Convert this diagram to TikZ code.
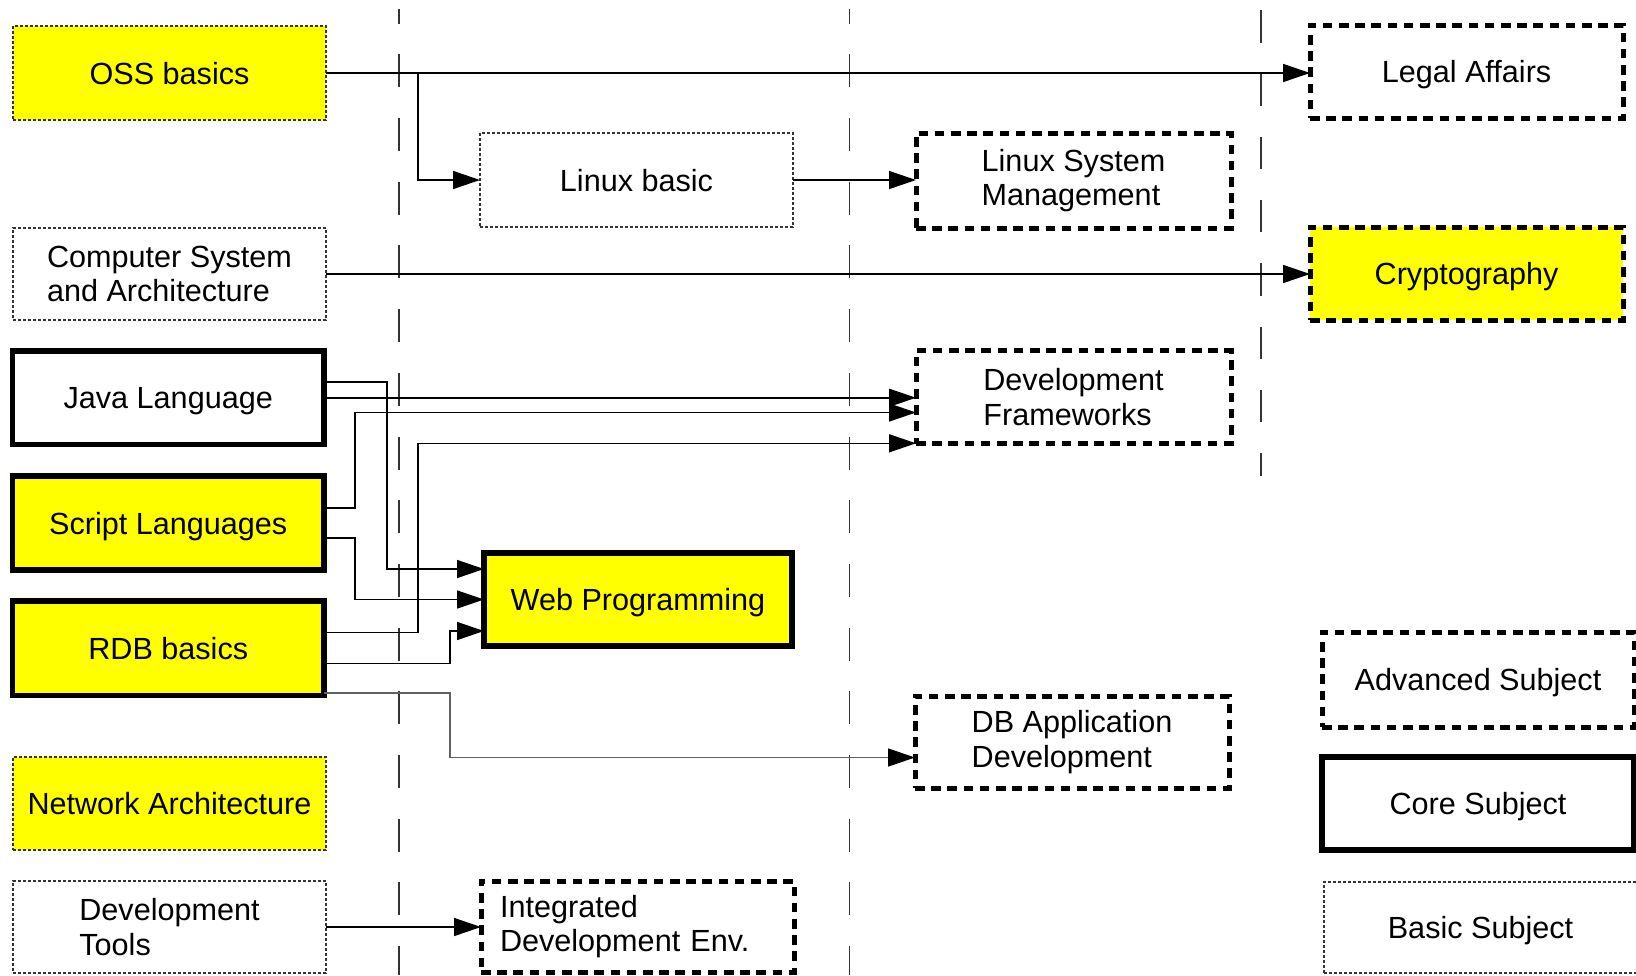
\documentclass[tikz,border=0pt]{standalone}
\usepackage{fontspec}
\setmainfont{Liberation Sans}
\usetikzlibrary{arrows.meta}
\definecolor{hl}{HTML}{FFFF00}
\begin{document}
\begin{tikzpicture}[x=0.5pt,y=-0.5pt,
  box/.style={rectangle, inner sep=0pt, outer sep=0pt, font=\fontsize{15.3}{17.3}\selectfont, align=center},
  oneline/.style={text height=11.2pt, text depth=0pt},
  basicbox/.style={box, draw=black!80, line width=0.6pt, dash pattern=on 1.5pt off 1pt},
  corebox/.style={box, draw=black, line width=2.6pt},
  advbox/.style={box, draw=black, line width=2.5pt, dash pattern=on 4.8pt off 3.3pt},
  conn/.style={draw=black, line width=0.75pt, -{Triangle[length=13.5pt,width=9pt]}},
  grayconn/.style={draw=black!62, line width=0.75pt, -{Triangle[length=13.5pt,width=9pt,color=black,fill=black]}},
  sepline/.style={draw=black!80, line width=0.75pt}
]
\useasboundingbox (0,0) rectangle (1636,975);

% separators
\draw[sepline, dash pattern=on 16.5pt off 15.35pt, dash phase=9.35pt] (399,9.3) -- (399,975);
\draw[sepline, dash pattern=on 16.5pt off 15.35pt, dash phase=9.35pt] (849.3,9.3) -- (849.3,975);
\draw[sepline, dash pattern=on 16.25pt off 15.4pt] (1261,10) -- (1261,476);

% left column
\node[basicbox, oneline, fill=hl, minimum width=156.5pt, minimum height=47pt] (oss) at (169.5,73) {OSS basics};
\node[basicbox, align=left, minimum width=156.5pt, minimum height=46pt] (csa) at (169.5,274) {Computer System\\and Architecture};
\node[corebox, oneline, minimum width=155.75pt, minimum height=46.75pt] (java) at (168.25,397.75) {Java Language};
\node[corebox, oneline, fill=hl, minimum width=155.75pt, minimum height=47pt] (script) at (168.25,523) {Script Languages};
\node[corebox, oneline, fill=hl, minimum width=155.75pt, minimum height=47.25pt] (rdb) at (168.25,648.25) {RDB basics};
\node[basicbox, oneline, fill=hl, minimum width=156.5pt, minimum height=46.5pt] (net) at (169.5,803.5) {Network Architecture};
\node[basicbox, align=left, minimum width=156.5pt, minimum height=46pt] (devtools) at (169.5,927) {Development\\Tools};

% second column
\node[basicbox, oneline, minimum width=156.5pt, minimum height=47pt] (linux) at (636.5,180) {Linux basic};
\node[corebox, oneline, fill=hl, minimum width=154pt, minimum height=46.5pt] (web) at (638,599.5) {Web Programming};
\node[advbox, align=left, text width=137.5pt, minimum width=156.5pt, minimum height=45.5pt] (ide) at (637.5,926.5) {Integrated\\Development Env.};

% third column
\node[advbox, align=left, minimum width=157.5pt, minimum height=47.5pt] (lsm) at (1073.5,180.5) {Linux System\\Management};
\node[advbox, align=left, minimum width=157.5pt, minimum height=46.5pt] (dfw) at (1073.5,397) {Development\\Frameworks};
\node[advbox, align=left, minimum width=157pt, minimum height=46pt] (dbapp) at (1072,742) {DB Application\\Development};

% fourth column
\node[advbox, oneline, minimum width=156.5pt, minimum height=46.5pt] (legal) at (1466.5,71.5) {Legal Affairs};
\node[advbox, oneline, fill=hl, minimum width=156.5pt, minimum height=46.5pt] (crypto) at (1466.5,273.5) {Cryptography};

% legend
\node[advbox, oneline, minimum width=156pt, minimum height=47.5pt] (advs) at (1478,679.5) {Advanced Subject};
\node[corebox, oneline, minimum width=156pt, minimum height=46.5pt] (cores) at (1478,803.5) {Core Subject};
\node[basicbox, oneline, minimum width=156.5pt, minimum height=45.5pt] (basics) at (1480.5,927.5) {Basic Subject};

% connectors
\draw[conn] (oss.east) -- (oss.east -| legal.west);
\draw[conn] (oss.east) -| (418,180) -- (linux.west);
\draw[conn] (linux.east) -- (linux.east -| lsm.west);
\draw[conn] (csa.east) -- (csa.east -| crypto.west);
\draw[conn] (java.east) -- (java.east -| dfw.west);
\draw[conn] (java.east |- 0,382) -| (387,569) -- (web.west |- 0,569);
\draw[conn] (script.east |- 0,508) -| (355,412.5) -- (dfw.west |- 0,412.5);
\draw[conn] (script.east |- 0,538) -| (355,599.5) -- (web.west);
\draw[conn] (rdb.east |- 0,632.3) -| (418,443.3) -- (dfw.west |- 0,443.3);
\draw[conn] (rdb.east |- 0,663.3) -| (450,631) -- (web.west |- 0,631);
\draw[grayconn] (rdb.east |- 0,693) -| (450,757.5) -- (dbapp.west |- 0,757.5);
\draw[conn] (devtools.east) -- (devtools.east -| ide.west);
\end{tikzpicture}
\end{document}
